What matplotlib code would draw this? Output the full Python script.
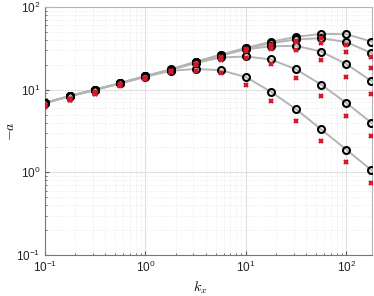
import matplotlib
matplotlib.use("Agg")
import matplotlib.pyplot as plt
import numpy as np

plt.rcParams['font.family'] = ['Liberation Sans', 'DejaVu Sans']
plt.rcParams['mathtext.fontset'] = 'cm'

# wavenumbers
kx = [0.1, 0.178, 0.316, 0.562, 1.0, 1.78, 3.16, 5.62, 10.0, 17.8, 31.6, 56.2, 100.0, 177.8]

# circles (reference values), one list per curve
a_ref_1 = [6.9, 8.4, 10.0, 12.0, 14.6, 17.6, 21.8, 26.5, 32.0, 38.0, 43.5, 47.3, 46.9, 38.2]
a_ref_2 = [6.9, 8.4, 10.0, 12.0, 14.6, 17.5, 21.6, 26.2, 31.6, 36.5, 40.5, 42.0, 37.6, 27.7]
a_ref_3 = [6.9, 8.4, 10.0, 12.0, 14.5, 17.4, 21.4, 25.8, 30.8, 33.5, 33.9, 28.9, 20.4, 12.7]
a_ref_4 = [6.9, 8.4, 10.0, 12.0, 14.5, 17.3, 21.0, 24.5, 25.2, 23.2, 17.6, 11.5, 6.9, 3.97]
a_ref_5 = [6.9, 8.3, 9.9, 11.9, 14.3, 16.9, 17.8, 17.2, 14.2, 9.4, 5.8, 3.3, 1.88, 1.06]

# crosses (model values)
a_mod_1 = [6.6, 7.8, 9.3, 11.6, 13.9, 16.8, 20.6, 24.6, 30.8, 34.5, 38.5, 42.0, 34.8, 25.0]
a_mod_2 = [6.5, 7.7, 9.1, 11.5, 13.8, 16.6, 20.4, 24.3, 30.3, 33.5, 37.5, 36.5, 28.9, 18.3]
a_mod_3 = [6.4, 7.6, 9.0, 11.4, 13.7, 16.5, 20.2, 24.0, 29.5, 31.0, 30.3, 23.0, 14.4, 8.9]
a_mod_4 = [6.3, 7.5, 8.9, 11.3, 13.6, 16.4, 19.8, 23.0, 24.1, 20.4, 14.0, 8.3, 4.77, 2.74]
a_mod_5 = [6.2, 7.4, 8.8, 11.1, 13.4, 16.2, 17.0, 15.9, 11.5, 7.2, 4.15, 2.38, 1.33, 0.75]

refs = [a_ref_1, a_ref_2, a_ref_3, a_ref_4, a_ref_5]
mods = [a_mod_1, a_mod_2, a_mod_3, a_mod_4, a_mod_5]

fig = plt.figure(figsize=(3.74, 2.96), dpi=100)
ax = fig.add_axes([45/374, 1-255/296, 327/374, 248/296])

for r in refs:
    ax.plot(kx, r, '-', color='#b4b4b4', lw=1.4, zorder=2)
for r in refs:
    ax.plot(kx, r, 'o', mfc='none', mec='black', ms=5, mew=1.5, zorder=3)
for m in mods:
    ax.plot(kx, m, 'x', color='#d4192c', ms=3, mew=1.6, zorder=4)

ax.set_xscale('log')
ax.set_yscale('log')
ax.set_xlim(0.1, 180)
ax.set_ylim(0.1, 100)

ax.grid(True, which='major', color='#e0e0e0', lw=0.8)
ax.grid(True, which='minor', color='#e6e6e6', lw=0.6, ls=':')
ax.set_axisbelow(True)

ax.tick_params(which='both', direction='in', colors='#555555', labelcolor='#222222', labelsize=8.5)
ax.tick_params(which='major', length=3)
ax.tick_params(which='minor', length=1.5)
for s in ['left', 'bottom']:
    ax.spines[s].set_color('#777777')
for s in ['top', 'right']:
    ax.spines[s].set_color('#b5b5b5')

ax.set_xlabel('$k_x$', fontsize=10)
ax.set_ylabel('$-a$', fontsize=10)
ax.yaxis.set_label_coords(-0.085, 0.5)
ax.xaxis.set_label_coords(0.475, -0.1)

fig.savefig('out.png', dpi=100)
